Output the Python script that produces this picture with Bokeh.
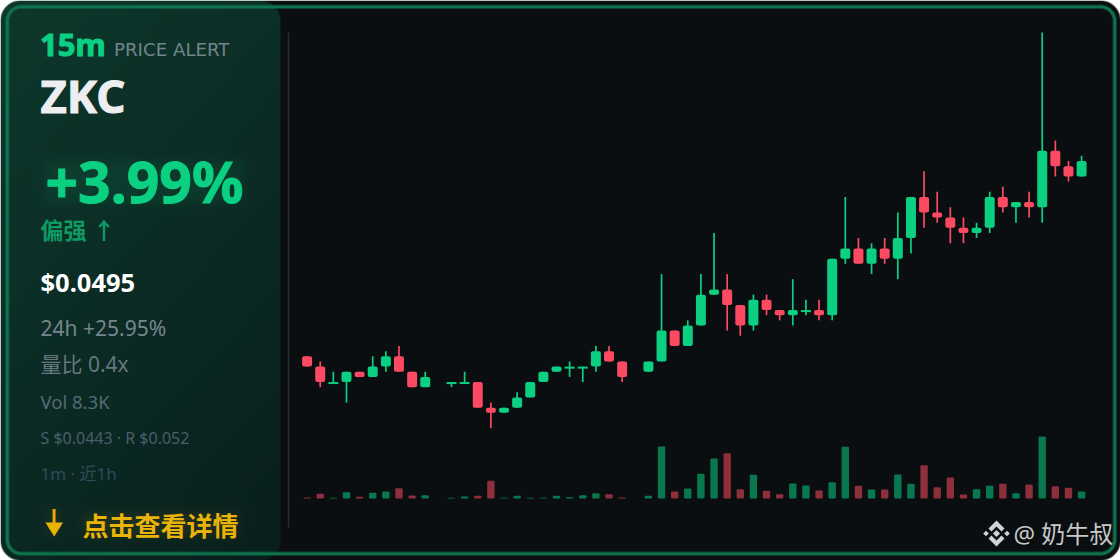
import numpy as np
from bokeh.embed import file_html
from bokeh.resources import INLINE
from bokeh.models import Range1d, Label
from bokeh.plotting import figure

N = None
# prices (one candle per minute; two minutes have no trade)
opens = [0.0457,0.0455,0.0452,0.0452,0.0454,0.0453,0.0455,0.0457,0.0454,0.0451,N,0.0452,0.0452,0.0452,0.0447,0.0446,0.0447,0.0449,0.0452,0.0454,
         0.0455,0.0455,0.0455,0.0458,0.0456,N,0.0454,0.0456,0.0462,0.0459,0.0463,0.0469,0.0470,0.0467,0.0463,0.0468,0.0466,0.0465,0.0466,0.0466,
         0.0465,0.0476,0.0478,0.0475,0.0478,0.0476,0.0480,0.0488,0.0485,0.0484,0.0482,0.0481,0.0482,0.0488,0.0486,0.0487,0.0486,0.0497,0.0494,0.0492]
closes = [0.0455,0.0452,0.0452,0.0454,0.0453,0.0455,0.0457,0.0454,0.0451,0.0453,N,0.0452,0.0452,0.0447,0.0446,0.0447,0.0449,0.0452,0.0454,0.0455,
          0.0455,0.0455,0.0458,0.0456,0.0453,N,0.0456,0.0462,0.0459,0.0463,0.0469,0.0470,0.0467,0.0463,0.0468,0.0466,0.0465,0.0466,0.0466,0.0465,
          0.0476,0.0478,0.0475,0.0478,0.0476,0.0480,0.0488,0.0485,0.0484,0.0482,0.0481,0.0482,0.0488,0.0486,0.0487,0.0486,0.0497,0.0494,0.0492,0.0495]
highs = [0.0457,0.0456,0.0454,0.0454,0.0454,0.0457,0.0458,0.0459,0.0454,0.0454,N,0.0452,0.0454,0.0452,0.0448,0.0447,0.0450,0.0452,0.0454,0.0455,
         0.0456,0.0455,0.0459,0.0459,0.0456,N,0.0456,0.0473,0.0462,0.0464,0.0473,0.0481,0.0473,0.0467,0.0469,0.0469,0.0466,0.0472,0.0468,0.0468,
         0.0476,0.0488,0.0480,0.0479,0.0480,0.0485,0.0488,0.0493,0.0489,0.0486,0.0484,0.0483,0.0489,0.0490,0.0487,0.0489,0.0520,0.0499,0.0495,0.0496]
lows = [0.0455,0.0451,0.0452,0.0448,0.0453,0.0453,0.0454,0.0454,0.0451,0.0451,N,0.0451,0.0452,0.0447,0.0443,0.0446,0.0447,0.0449,0.0452,0.0454,
        0.0453,0.0452,0.0454,0.0456,0.0452,N,0.0454,0.0456,0.0459,0.0459,0.0463,0.0469,0.0462,0.0461,0.0462,0.0465,0.0464,0.0463,0.0465,0.0464,
        0.0464,0.0475,0.0475,0.0473,0.0475,0.0472,0.0477,0.0482,0.0483,0.0479,0.0479,0.0480,0.0481,0.0485,0.0483,0.0484,0.0483,0.0492,0.0491,0.0492]
# volume, thousands
volumes = [1.2,5.6,0.8,7.5,2.0,6.8,8.3,12.3,3.6,3.9,N,0.8,2.4,3.2,21.1,0.8,3.2,0.8,0.8,3.2,
           1.6,3.9,6.3,5.1,1.2,N,3.2,61.9,8.3,11.9,29.4,47.6,53.9,11.1,28.2,9.2,5.1,17.9,15.5,9.5,
           19.4,61.5,15.1,10.7,10.7,28.6,17.5,39.6,13.4,25.0,4.8,11.1,15.1,17.5,6.3,16.7,73.8,14.6,12.7,8.3]

UP, DOWN = "#0bd082", "#fb4a61"
BG = (10, 14, 17)

# ---- card background (pixel grid) ----
W, H = 1120, 560
xx, yy = np.meshgrid(np.arange(W) + .5, np.arange(H) + .5)

def rrect(x0, y0, x1, y1, r):
    cx, cy = (x0 + x1) / 2, (y0 + y1) / 2
    qx = np.abs(xx - cx) - (x1 - x0) / 2 + r
    qy = np.abs(yy - cy) - (y1 - y0) / 2 + r
    return np.hypot(np.maximum(qx, 0), np.maximum(qy, 0)) + np.minimum(np.maximum(qx, qy), 0) - r

def mix(img, color, a):
    a = a[..., None]
    return img * (1 - a) + np.array(color, float) * a

def glow(x0, y0, x1, y1, s, a):
    return a * .25 * (np.tanh((xx - x0) / s) - np.tanh((xx - x1) / s)) * (np.tanh((yy - y0) / s) - np.tanh((yy - y1) / s))

img = np.full((H, W, 3), BG, float)
t = np.clip(xx / 280 * .35 + yy / 560 * .65, 0, 1)[..., None]
panel_col = np.array((13, 56, 44), float) * (1 - t) + np.array((9, 30, 28), float) * t
pa = np.clip(.5 - rrect(-40, 0, 280, 560, 20), 0, 1)[..., None]
img = img * (1 - pa) + panel_col * pa
img = mix(img, (14, 115, 78), np.clip(2.2 - np.abs(rrect(5, 4.5, 1116, 555, 16) + 1.8), 0, 1))
img = mix(img, (10, 207, 130), glow(45, 160, 243, 203, 6, .08))
img = mix(img, (234, 179, 8), glow(82, 512, 238, 536, 6, .08))
img = mix(img, (234, 179, 8), glow(47, 508, 60, 534, 5, .08))
alpha = np.clip(.5 - rrect(0, 0, W, H, 20), 0, 1)
img = img * alpha[..., None] + 255 * (1 - alpha[..., None])
rgba = np.zeros((H, W), dtype=np.uint32)
view = rgba.view(np.uint8).reshape((H, W, 4))
view[..., :3] = np.round(img).astype(np.uint8)
view[..., 3] = 255
rgba = np.flipud(rgba)

p = figure(width=W, height=H, output_backend="svg", toolbar_location=None,
           x_range=Range1d(0, W), y_range=Range1d(0, H),
           x_axis_location=None, y_axis_location=None, min_border=0,
           styles={"position": "absolute", "left": "0", "top": "0"})
p.grid.visible = False
p.outline_line_color = None
p.background_fill_color = "#ffffff"
p.border_fill_color = "#ffffff"

def Y(py):
    return H - py

# candle scales: idx 0 at 306.6px, 13.127 px per candle
STEP = 13.127
p.extra_x_ranges["idx"] = Range1d(-306.6 / STEP, (W - 306.6) / STEP)
PX = 5.14 / 0.0001
p.extra_y_ranges["price"] = Range1d(0.0520 - (H - 32) / PX, 0.0520 + 32 / PX)
KPX = 1.19
p.extra_y_ranges["vol"] = Range1d(-(H - 498) * KPX, 498 * KPX)

p.image_rgba(image=[rgba], x=0, y=0, dw=W, dh=H)
p.segment(x0=[288], y0=[Y(32)], x1=[288], y1=[Y(527)], line_color="#2a2e33", line_width=1.5)

ok = [i for i in range(len(opens)) if opens[i] is not None]
color = {i: (UP if closes[i] >= opens[i] else DOWN) for i in ok}
body = [i for i in ok if opens[i] != closes[i]]
doji = [i for i in ok if opens[i] == closes[i]]

p.segment(x0=ok, x1=ok, y0=[lows[i] for i in ok], y1=[highs[i] for i in ok],
          line_color=[color[i] for i in ok], line_width=1.7,
          x_range_name="idx", y_range_name="price")
p.vbar(x=body, width=0.76, top=[max(opens[i], closes[i]) for i in body],
       bottom=[min(opens[i], closes[i]) for i in body],
       fill_color=[color[i] for i in body], line_color=None, border_radius=2,
       x_range_name="idx", y_range_name="price")
p.segment(x0=[i - .38 for i in doji], x1=[i + .38 for i in doji],
          y0=[closes[i] - 0.00002 for i in doji], y1=[closes[i] - 0.00002 for i in doji],
          line_color=[color[i] for i in doji], line_width=2,
          x_range_name="idx", y_range_name="price")
p.vbar(x=ok, width=0.56, top=[volumes[i] for i in ok], bottom=0,
       fill_color=[color[i] for i in ok], fill_alpha=.55, line_color=None, border_radius=1,
       x_range_name="idx", y_range_name="vol")

# watermark logo
cx, cy = 996, 533
def dia(x, y, r):
    return [cx + x, cx + x + r, cx + x, cx + x - r], [Y(cy + y - r), Y(cy + y), Y(cy + y + r), Y(cy + y)]
chev_t = ([0, 8, 5, 0, -5, -8], [-13, -5, -2, -7, -2, -5])
chev_b = ([0, 8, 5, 0, -5, -8], [13, 5, 2, 7, 2, 5])
shapes = [dia(0, 0, 3.6), dia(-10.5, 0, 2.8), dia(10.5, 0, 2.8),
          ([cx + a for a in chev_t[0]], [Y(cy + b) for b in chev_t[1]]),
          ([cx + a for a in chev_b[0]], [Y(cy + b) for b in chev_b[1]])]
p.patches(xs=[s[0] for s in shapes], ys=[s[1] for s in shapes], fill_color="#d2d2d2", line_color=None)

# heavier head for the pointer arrow
p.patch(x=[45, 62.5, 53.7], y=[Y(522), Y(522), Y(536)], fill_color="#eab308", line_color=None)

SANS = "Noto Sans, Noto Sans CJK SC"
K = 0.365  # Label puts its alphabetic line this far (in ems) under the anchor
def txt(s, x, py, size, col, bold=False, font=SANS, heavy=False):
    kw = {"text_outline_color": col} if heavy else {}
    p.add_layout(Label(x=x, y=Y(py - K * size), text=s, text_font=font, text_font_size=f"{size}px", text_color=col,
                       text_font_style="bold" if bold else "normal", text_baseline="alphabetic", text_align="left", **kw))

txt("15m", 39.5, 55, 31, "#0bd082", True, heavy=True)
txt("PRICE ALERT", 113.5, 56, 18.2, "#74848c", font="DejaVu Sans")
txt("ZKC", 40, 111, 45.5, "#eceef0", True, heavy=True)
txt("+3.99%", 45, 201, 57, "#0bd082", True, heavy=True)
txt("偏强 ↑", 40, 238, 23, "#0e9a63", True)
txt("$0.0495", 40, 291, 25.5, "#ffffff", True)
txt("24h +25.95%", 40, 335, 21, "#76868e")
txt("量比 0.4x", 40, 371, 21, "#667780")
txt("Vol 8.3K", 40, 407.5, 18.5, "#566975")
txt("S $0.0443 · R $0.052", 40, 443, 16, "#4b5e6c")
txt("1m · 近1h", 40, 479, 17, "#2f4a5b")
txt("↓", 43.5, 532, 40, "#eab308", True, "Liberation Sans", heavy=True)
txt("点击查看详情", 82, 534.5, 26, "#eab308", True)
txt("@ 奶牛叔", 1013, 542, 24, "#c8c8c8")

open("out.html", "w").write(file_html(p, INLINE))
